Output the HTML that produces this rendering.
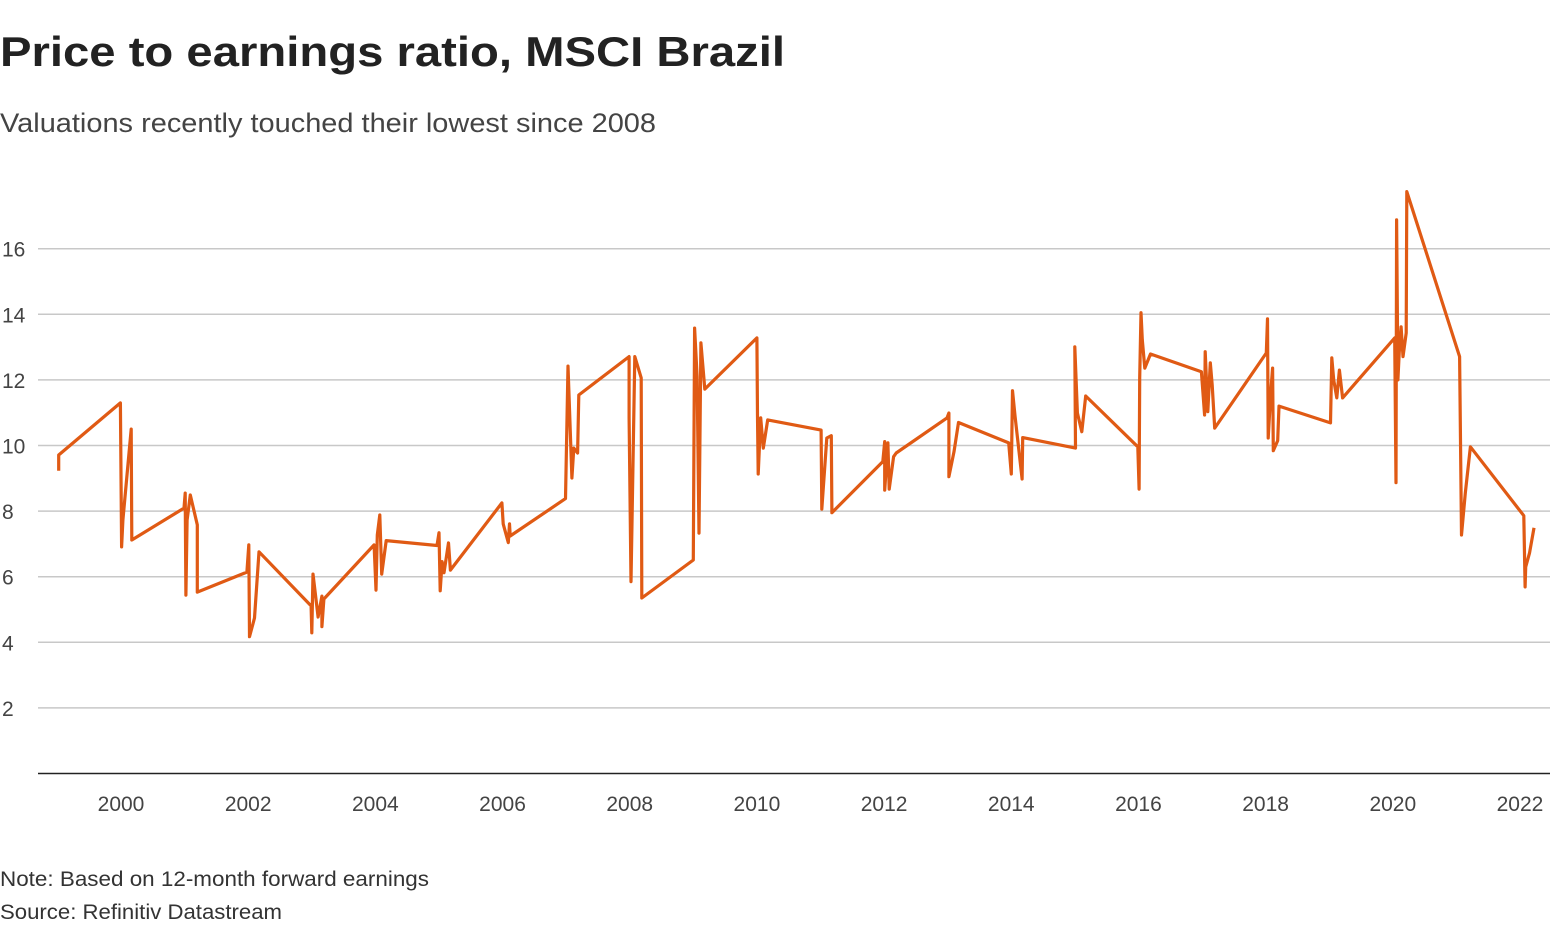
<!DOCTYPE html>
<html><head><meta charset="utf-8"><style>
html,body{margin:0;padding:0;background:#fff;}
svg{display:block;font-family:"Liberation Sans",sans-serif;}
</style></head><body>
<svg id="chart" width="1554" height="932" viewBox="0 0 1554 932">
<text x="0" y="66" font-size="42" font-weight="bold" fill="#222" textLength="785" lengthAdjust="spacingAndGlyphs">Price to earnings ratio, MSCI Brazil</text>
<text x="0" y="132" font-size="27" fill="#444" textLength="656" lengthAdjust="spacingAndGlyphs">Valuations recently touched their lowest since 2008</text>
<g id="grid"></g>
<g id="yticks"></g>
<g id="xticks"></g>
<line x1="38" y1="773.5" x2="1550" y2="773.5" stroke="#222" stroke-width="1.5"/>
<path id="series" fill="none" stroke="#e05a14" stroke-width="3.2" stroke-linejoin="round"/>
<text x="0" y="886" font-size="21" fill="#333" textLength="429" lengthAdjust="spacingAndGlyphs">Note: Based on 12-month forward earnings</text>
<text x="0" y="919" font-size="21" fill="#333" textLength="282" lengthAdjust="spacingAndGlyphs">Source: Refinitiv Datastream</text>
</svg>
<script>
const dates=[1999.02,1999.02,1999.99,2000.01,2000.03,2000.16,2000.17,2000.99,2001.01,2001.02,2001.04,2001.09,2001.20,2001.20,2001.98,2002.01,2002.02,2002.10,2002.17,2002.99,2003.00,2003.02,2003.10,2003.16,2003.16,2003.19,2003.98,2004.01,2004.03,2004.07,2004.10,2004.17,2004.97,2005.00,2005.02,2005.05,2005.08,2005.15,2005.18,2005.99,2006.01,2006.09,2006.11,2006.12,2006.99,2007.03,2007.09,2007.12,2007.18,2007.20,2007.99,2007.99,2008.02,2008.08,2008.18,2008.19,2009.00,2009.02,2009.06,2009.09,2009.12,2009.18,2010.00,2010.01,2010.02,2010.06,2010.10,2010.17,2011.01,2011.02,2011.10,2011.17,2011.18,2011.98,2012.01,2012.01,2012.06,2012.08,2012.15,2012.19,2012.99,2013.02,2013.02,2013.10,2013.17,2013.96,2014.00,2014.02,2014.06,2014.17,2014.18,2015.01,2015.00,2015.04,2015.11,2015.17,2015.99,2016.01,2016.02,2016.04,2016.06,2016.10,2016.19,2016.99,2017.04,2017.05,2017.09,2017.13,2017.16,2017.20,2018.01,2018.03,2018.04,2018.08,2018.11,2018.12,2018.19,2018.21,2019.02,2019.04,2019.07,2019.12,2019.16,2019.21,2020.03,2020.05,2020.06,2020.08,2020.10,2020.13,2020.16,2020.21,2020.22,2021.05,2021.08,2021.14,2021.22,2022.06,2022.08,2022.09,2022.15,2022.22];
const peValues=[9.23,9.71,11.30,6.91,7.73,10.50,7.12,8.09,8.55,5.44,7.73,8.49,7.58,5.53,6.14,6.97,4.17,4.74,6.76,5.11,4.29,6.08,4.77,5.41,4.48,5.32,6.97,5.59,7.27,7.88,6.08,7.10,6.95,7.34,5.57,6.46,6.12,7.03,6.20,8.25,7.61,7.04,7.61,7.24,8.38,12.42,9.01,9.92,9.77,11.54,12.71,10.84,5.85,12.71,12.06,5.35,6.51,13.58,12.10,7.33,13.13,11.72,13.28,10.88,9.13,10.84,9.92,10.78,10.47,8.06,10.23,10.30,7.95,9.51,10.12,8.64,10.08,8.67,9.66,9.77,10.84,10.99,9.05,9.81,10.70,10.08,9.13,11.67,10.88,8.98,10.24,9.92,13.01,10.99,10.42,11.51,9.96,8.67,12.06,14.05,13.22,12.36,12.79,12.25,10.93,12.86,11.03,12.52,11.84,10.53,12.82,13.86,10.23,11.60,12.36,9.84,10.15,11.20,10.69,12.67,12.00,11.45,12.30,11.45,13.28,8.87,16.88,12.00,12.82,13.62,12.71,13.43,17.74,12.71,7.27,8.55,9.96,7.86,5.69,6.30,6.72,7.49];
const yTickValues=[2,4,6,8,10,12,14,16];
const xTickYears=[2000,2002,2004,2006,2008,2010,2012,2014,2016,2018,2020,2022];

const NS='http://www.w3.org/2000/svg';
function xScale(yr){return 121+(yr-2000)*63.59;}
function yScale(v){return 773.5-v*32.8;}
const grid=document.getElementById('grid'),yt=document.getElementById('yticks'),xt=document.getElementById('xticks');
yTickValues.forEach(v=>{
  const l=document.createElementNS(NS,'line');
  l.setAttribute('x1',38);l.setAttribute('x2',1550);
  l.setAttribute('y1',yScale(v));l.setAttribute('y2',yScale(v));
  l.setAttribute('stroke','#c8c8c8');l.setAttribute('stroke-width','1.5');
  
  
  grid.appendChild(l);
  const t=document.createElementNS(NS,'text');
  t.setAttribute('x',2);t.setAttribute('y',yScale(v)+8);
  t.setAttribute('font-size','21');t.setAttribute('fill','#444');
  t.textContent=v;
  
  
  yt.appendChild(t);
});
xTickYears.forEach(y=>{
  const t=document.createElementNS(NS,'text');
  t.setAttribute('x',xScale(y));t.setAttribute('y',811);
  t.setAttribute('font-size','21');t.setAttribute('fill','#444');
  t.setAttribute('text-anchor','middle');
  t.textContent=y;
  
  
  xt.appendChild(t);
});
let d='';
dates.forEach((yr,i)=>{d+=(i?'L':'M')+xScale(yr).toFixed(1)+','+yScale(peValues[i]).toFixed(1);});
document.getElementById('series').setAttribute('d',d);
</script>
</body></html>
